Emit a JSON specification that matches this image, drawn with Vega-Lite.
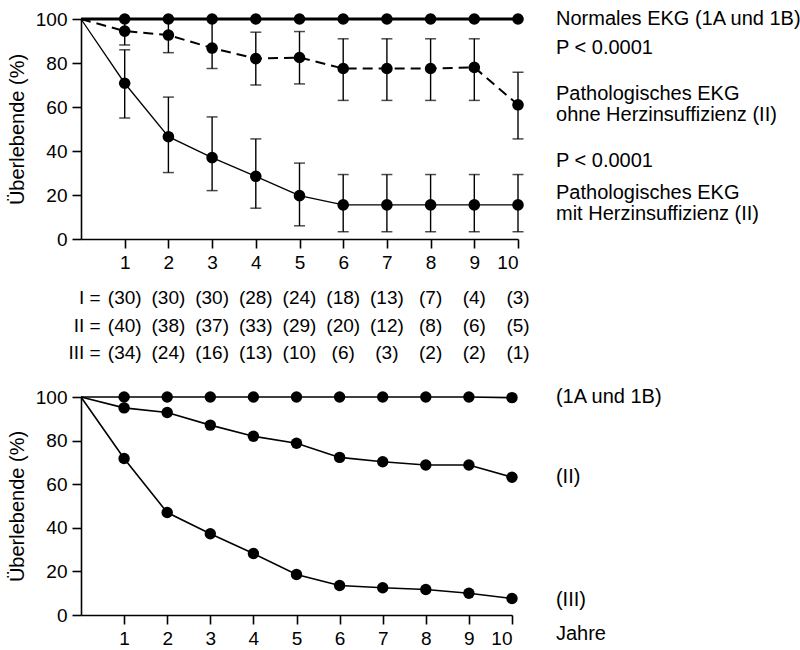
{
  "$schema": "https://vega.github.io/schema/vega-lite/v6.json",
  "padding": {"left": 7, "top": 9, "right": 0, "bottom": 0},
  "background": "white",
  "config": {
    "view": {"stroke": null},
    "font": "Liberation Sans",
    "axis": {
      "domainColor": "black", "tickColor": "black", "labelColor": "black", "titleColor": "black",
      "labelFont": "Liberation Sans", "titleFont": "Liberation Sans",
      "labelFontSize": 19, "titleFontSize": 20, "titleFontWeight": "normal",
      "grid": false, "tickSize": 9, "domainWidth": 1.6, "tickWidth": 1.6, "labelPadding": 5, "titlePadding": 8
    },
    "text": {"font": "Liberation Sans", "fontSize": 20, "color": "black"}
  },
  "datasets": {
    "top": [
      {"g": "I", "t": 0, "v": 100}, {"g": "I", "t": 1, "v": 100}, {"g": "I", "t": 2, "v": 100}, {"g": "I", "t": 3, "v": 100},
      {"g": "I", "t": 4, "v": 100}, {"g": "I", "t": 5, "v": 100}, {"g": "I", "t": 6, "v": 100}, {"g": "I", "t": 7, "v": 100},
      {"g": "I", "t": 8, "v": 100}, {"g": "I", "t": 9, "v": 100}, {"g": "I", "t": 10, "v": 100},
      {"g": "II", "t": 0, "v": 100},
      {"g": "II", "t": 1, "v": 94.5, "lo": 88.2, "hi": 100},
      {"g": "II", "t": 2, "v": 92.7, "lo": 84.7, "hi": 100},
      {"g": "II", "t": 3, "v": 86.8, "lo": 77.5, "hi": 100},
      {"g": "II", "t": 4, "v": 82, "lo": 70, "hi": 94},
      {"g": "II", "t": 5, "v": 82.5, "lo": 70.5, "hi": 94.3},
      {"g": "II", "t": 6, "v": 77.5, "lo": 63, "hi": 91},
      {"g": "II", "t": 7, "v": 77.5, "lo": 63, "hi": 91},
      {"g": "II", "t": 8, "v": 77.5, "lo": 63, "hi": 91},
      {"g": "II", "t": 9, "v": 78, "lo": 63, "hi": 91},
      {"g": "II", "t": 10, "v": 61, "lo": 45.5, "hi": 75.8},
      {"g": "III", "t": 0, "v": 100},
      {"g": "III", "t": 1, "v": 70.8, "lo": 55, "hi": 86},
      {"g": "III", "t": 2, "v": 46.5, "lo": 30.2, "hi": 64.5},
      {"g": "III", "t": 3, "v": 37, "lo": 22, "hi": 55.5},
      {"g": "III", "t": 4, "v": 28.5, "lo": 14, "hi": 45.5},
      {"g": "III", "t": 5, "v": 19.7, "lo": 6, "hi": 34.5},
      {"g": "III", "t": 6, "v": 15.5, "lo": 3.3, "hi": 29.3},
      {"g": "III", "t": 7, "v": 15.5, "lo": 3.3, "hi": 29.3},
      {"g": "III", "t": 8, "v": 15.5, "lo": 3.3, "hi": 29.3},
      {"g": "III", "t": 9, "v": 15.5, "lo": 3.3, "hi": 29.3},
      {"g": "III", "t": 10, "v": 15.5, "lo": 3.3, "hi": 29.3}
    ],
    "bottom": [
      {"g": "I", "t": 0, "v": 100}, {"g": "I", "t": 1, "v": 100}, {"g": "I", "t": 2, "v": 100}, {"g": "I", "t": 3, "v": 100},
      {"g": "I", "t": 4, "v": 100}, {"g": "I", "t": 5, "v": 100}, {"g": "I", "t": 6, "v": 100}, {"g": "I", "t": 7, "v": 100},
      {"g": "I", "t": 8, "v": 100}, {"g": "I", "t": 9, "v": 100}, {"g": "I", "t": 10, "v": 99.7},
      {"g": "II", "t": 0, "v": 100}, {"g": "II", "t": 1, "v": 95}, {"g": "II", "t": 2, "v": 92.9}, {"g": "II", "t": 3, "v": 87.1},
      {"g": "II", "t": 4, "v": 82}, {"g": "II", "t": 5, "v": 78.8}, {"g": "II", "t": 6, "v": 72.3}, {"g": "II", "t": 7, "v": 70.3},
      {"g": "II", "t": 8, "v": 68.8}, {"g": "II", "t": 9, "v": 68.8}, {"g": "II", "t": 10, "v": 63.2},
      {"g": "III", "t": 0, "v": 100}, {"g": "III", "t": 1, "v": 71.8}, {"g": "III", "t": 2, "v": 47}, {"g": "III", "t": 3, "v": 37.3},
      {"g": "III", "t": 4, "v": 28.2}, {"g": "III", "t": 5, "v": 18.6}, {"g": "III", "t": 6, "v": 13.5}, {"g": "III", "t": 7, "v": 12.5},
      {"g": "III", "t": 8, "v": 11.7}, {"g": "III", "t": 9, "v": 10}, {"g": "III", "t": 10, "v": 7.6}
    ],
    "toplabels": [
      {"x": 10.87, "y": 100, "text": "Normales EKG (1A und 1B)"},
      {"x": 10.87, "y": 86.8, "text": "P < 0.0001"},
      {"x": 10.87, "y": 65.9, "text": "Pathologisches EKG"},
      {"x": 10.87, "y": 56.4, "text": "ohne Herzinsuffizienz (II)"},
      {"x": 10.87, "y": 35.5, "text": "P < 0.0001"},
      {"x": 10.87, "y": 20.9, "text": "Pathologisches EKG"},
      {"x": 10.87, "y": 11.4, "text": "mit Herzinsuffizienz (II)"}
    ],
    "table": [
      {"x": 0.45, "y": -26.8, "text": "I =", "a": "r"},
      {"x": 0.45, "y": -39.5, "text": "II =", "a": "r"},
      {"x": 0.45, "y": -51.8, "text": "III =", "a": "r"},
      {"x": 1, "y": -26.8, "text": "(30)"}, {"x": 2, "y": -26.8, "text": "(30)"}, {"x": 3, "y": -26.8, "text": "(30)"},
      {"x": 4, "y": -26.8, "text": "(28)"}, {"x": 5, "y": -26.8, "text": "(24)"}, {"x": 6, "y": -26.8, "text": "(18)"},
      {"x": 7, "y": -26.8, "text": "(13)"}, {"x": 8, "y": -26.8, "text": "(7)"}, {"x": 9, "y": -26.8, "text": "(4)"},
      {"x": 10, "y": -26.8, "text": "(3)"},
      {"x": 1, "y": -39.5, "text": "(40)"}, {"x": 2, "y": -39.5, "text": "(38)"}, {"x": 3, "y": -39.5, "text": "(37)"},
      {"x": 4, "y": -39.5, "text": "(33)"}, {"x": 5, "y": -39.5, "text": "(29)"}, {"x": 6, "y": -39.5, "text": "(20)"},
      {"x": 7, "y": -39.5, "text": "(12)"}, {"x": 8, "y": -39.5, "text": "(8)"}, {"x": 9, "y": -39.5, "text": "(6)"},
      {"x": 10, "y": -39.5, "text": "(5)"},
      {"x": 1, "y": -51.8, "text": "(34)"}, {"x": 2, "y": -51.8, "text": "(24)"}, {"x": 3, "y": -51.8, "text": "(16)"},
      {"x": 4, "y": -51.8, "text": "(13)"}, {"x": 5, "y": -51.8, "text": "(10)"}, {"x": 6, "y": -51.8, "text": "(6)"},
      {"x": 7, "y": -51.8, "text": "(3)"}, {"x": 8, "y": -51.8, "text": "(2)"}, {"x": 9, "y": -51.8, "text": "(2)"},
      {"x": 10, "y": -51.8, "text": "(1)"}
    ],
    "botlabels": [
      {"x": 11.02, "y": 100, "text": "(1A und 1B)"},
      {"x": 11.02, "y": 63.3, "text": "(II)"},
      {"x": 11.02, "y": 6.9, "text": "(III)"},
      {"x": 11.02, "y": -8.7, "text": "Jahre"}
    ]
  },
  "vconcat": [
    {
      "width": 437,
      "height": 220,
      "encoding": {
        "x": {"field": "t", "type": "quantitative", "scale": {"domain": [0, 10], "nice": false},
              "axis": {"values": [1, 2, 3, 4, 5, 6, 7, 8, 9, 10], "title": null}},
        "y": {"field": "v", "type": "quantitative", "scale": {"domain": [0, 100], "nice": false},
              "axis": {"values": [0, 20, 40, 60, 80, 100], "title": "Überlebende (%)"}}
      },
      "layer": [
        {"data": {"name": "top"}, "transform": [{"filter": "datum.g == 'I'"}],
         "mark": {"type": "line", "color": "black", "strokeWidth": 2.8}},
        {"data": {"name": "top"}, "transform": [{"filter": "datum.g == 'II'"}],
         "mark": {"type": "line", "color": "black", "strokeWidth": 2, "strokeDash": [10, 6]}},
        {"data": {"name": "top"}, "transform": [{"filter": "datum.g == 'III'"}],
         "mark": {"type": "line", "color": "black", "strokeWidth": 1.3}},
        {"data": {"name": "top"}, "transform": [{"filter": "isValid(datum.lo)"}],
         "mark": {"type": "rule", "color": "black", "strokeWidth": 1.4},
         "encoding": {"y": {"field": "lo", "type": "quantitative"}, "y2": {"field": "hi"}}},
        {"data": {"name": "top"}, "transform": [{"filter": "isValid(datum.lo)"}],
         "mark": {"type": "tick", "orient": "horizontal", "color": "black", "size": 11, "thickness": 1.5},
         "encoding": {"y": {"field": "lo", "type": "quantitative"}}},
        {"data": {"name": "top"}, "transform": [{"filter": "isValid(datum.hi) && datum.hi < 100"}],
         "mark": {"type": "tick", "orient": "horizontal", "color": "black", "size": 11, "thickness": 1.5},
         "encoding": {"y": {"field": "hi", "type": "quantitative"}}},
        {"data": {"name": "top"}, "transform": [{"filter": "datum.t > 0"}],
         "mark": {"type": "point", "filled": true, "color": "black", "size": 135, "opacity": 1, "strokeWidth": 0}},
        {"data": {"name": "toplabels"},
         "mark": {"type": "text", "align": "left", "baseline": "middle"},
         "encoding": {"x": {"field": "x", "type": "quantitative"}, "y": {"field": "y", "type": "quantitative"}, "text": {"field": "text"}}},
        {"data": {"name": "table"}, "transform": [{"filter": "datum.a == 'r'"}],
         "mark": {"type": "text", "align": "right", "baseline": "middle", "fontSize": 19},
         "encoding": {"x": {"field": "x", "type": "quantitative"}, "y": {"field": "y", "type": "quantitative"}, "text": {"field": "text"}}},
        {"data": {"name": "table"}, "transform": [{"filter": "datum.a != 'r'"}],
         "mark": {"type": "text", "align": "center", "baseline": "middle", "fontSize": 19},
         "encoding": {"x": {"field": "x", "type": "quantitative"}, "y": {"field": "y", "type": "quantitative"}, "text": {"field": "text"}}}
      ]
    },
    {
      "width": 431,
      "height": 218,
      "encoding": {
        "x": {"field": "t", "type": "quantitative", "scale": {"domain": [0, 10], "nice": false},
              "axis": {"values": [1, 2, 3, 4, 5, 6, 7, 8, 9, 10], "title": null}},
        "y": {"field": "v", "type": "quantitative", "scale": {"domain": [0, 100], "nice": false},
              "axis": {"values": [0, 20, 40, 60, 80, 100], "title": "Überlebende (%)"}}
      },
      "layer": [
        {"data": {"name": "bottom"}, "transform": [{"filter": "datum.g == 'I'"}],
         "mark": {"type": "line", "color": "black", "strokeWidth": 1.6}},
        {"data": {"name": "bottom"}, "transform": [{"filter": "datum.g == 'II'"}],
         "mark": {"type": "line", "color": "black", "strokeWidth": 1.6}},
        {"data": {"name": "bottom"}, "transform": [{"filter": "datum.g == 'III'"}],
         "mark": {"type": "line", "color": "black", "strokeWidth": 1.6}},
        {"data": {"name": "bottom"}, "transform": [{"filter": "datum.t > 0"}],
         "mark": {"type": "point", "filled": true, "color": "black", "size": 130, "opacity": 1, "strokeWidth": 0}},
        {"data": {"name": "botlabels"},
         "mark": {"type": "text", "align": "left", "baseline": "middle"},
         "encoding": {"x": {"field": "x", "type": "quantitative"}, "y": {"field": "y", "type": "quantitative"}, "text": {"field": "text"}}}
      ]
    }
  ],
  "bounds": "flush",
  "spacing": 158
}
